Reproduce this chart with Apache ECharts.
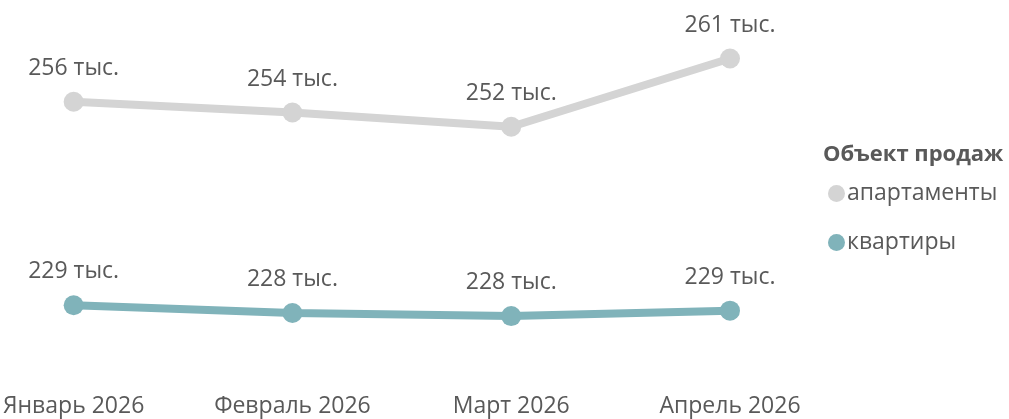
<!DOCTYPE html>
<html>
<head>
<meta charset="utf-8">
<script src="https://cdn.jsdelivr.net/npm/echarts@6/dist/echarts.min.js"></script>
<style>
  html, body { margin: 0; padding: 0; background: #fff; }
  #chart { width: 1009px; height: 419px; }
</style>
</head>
<body>
<div id="chart"></div>
<script>
// месяцы и значения (тыс.)
const months = ['Январь 2026', 'Февраль 2026', 'Март 2026', 'Апрель 2026'];
const apartments = [255.7, 254.3, 252.45, 261.3];
const flats = [229.3, 228.3, 227.9, 228.6];
const seriesNames = ['апартаменты', 'квартиры'];
const legendTitle = 'Объект продаж';

const textColor = '#595959';
const font = '"Open Sans", "Noto Sans", sans-serif';

const chart = echarts.init(document.getElementById('chart'));

function makeSeries(name, data, color) {
  return {
    name: name,
    type: 'line',
    data: data,
    symbol: 'circle',
    symbolSize: 20,
    itemStyle: { color: color },
    lineStyle: { color: color, width: 8 },
    label: {
      show: true,
      position: 'top',
      distance: 12,
      color: textColor,
      fontFamily: font,
      fontSize: 23,
      formatter: p => Math.round(p.value) + ' тыс.'
    },
    emphasis: { disabled: true },
    animation: false
  };
}

const option = {
  backgroundColor: '#fff',
  grid: { left: 73, right: 279, top: 30, bottom: 42, containLabel: false },
  xAxis: {
    type: 'category',
    data: months,
    boundaryGap: false,
    axisLine: { show: false },
    axisTick: { show: false },
    axisLabel: { color: textColor, fontFamily: font, fontSize: 23, margin: 18 }
  },
  yAxis: {
    type: 'value',
    min: 220,
    max: 265,
    show: false
  },
  legend: {
    orient: 'vertical',
    left: 823,
    top: 177,
    icon: 'circle',
    itemWidth: 17,
    itemHeight: 17,
    itemGap: 26,
    textStyle: { color: textColor, fontFamily: font, fontSize: 23, padding: [0, 0, 0, -3] },
    data: seriesNames
  },
  graphic: [{
    type: 'text',
    left: 823,
    top: 144,
    style: { text: legendTitle, fill: textColor, font: 'bold 22px ' + font }
  }],
  series: [
    makeSeries(seriesNames[0], apartments, '#d4d4d4'),
    makeSeries(seriesNames[1], flats, '#80b3ba')
  ]
};

chart.setOption(option);
</script>
</body>
</html>
